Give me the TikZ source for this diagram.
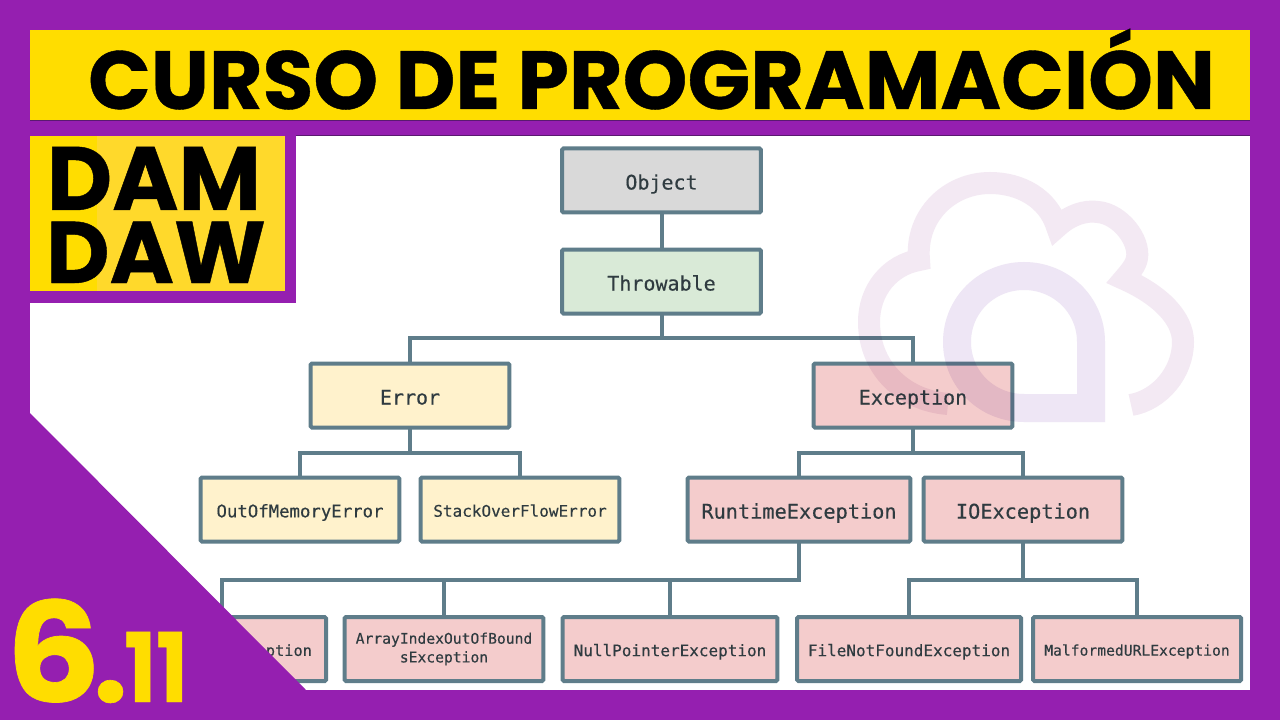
\documentclass[tikz,border=0pt]{standalone}
\usepackage{fontspec}
\setmainfont{Poppins}[BoldFont={Poppins Bold},BoldFeatures={FakeBold=0.5}]
\newfontfamily\monof{DejaVu Sans Mono}[FakeBold=0.35]
\definecolor{purp}{HTML}{951FB0}
\definecolor{yel}{HTML}{FFDD00}
\definecolor{yelb}{HTML}{FFD92B}
\definecolor{edge}{HTML}{5F7D8A}
\definecolor{ink}{HTML}{2F3B40}
\definecolor{grayf}{HTML}{D9D9D9}
\definecolor{greenf}{HTML}{D9EAD7}
\definecolor{yellf}{HTML}{FFF2CC}
\definecolor{redf}{HTML}{F4CCCC}
\definecolor{wmouter}{HTML}{F3E9F3}
\definecolor{wminner}{HTML}{EEE6F5}
\definecolor{hair}{HTML}{5A1A70}
\newcommand{\mfs}[1]{\monof\fontsize{#1}{#1}\selectfont}
\tikzset{
  x=0.75pt,y=-0.75pt,
  tree box/.style={draw=edge,line width=3pt,rectangle,rounded corners=1pt,inner sep=0pt,outer sep=0pt,text=ink,align=center,minimum height=48pt},
  lbl/.style={font=\mfs{#1},text height=0.9*#1 pt,text depth=0pt},
  conn/.style={draw=edge,line width=3pt,line join=miter},
  wm/.style={line cap=butt,line join=miter},
  big/.style={font=\bfseries\fontsize{#1}{#1}\selectfont,inner sep=0pt,anchor=base}
}
\begin{document}
\begin{tikzpicture}
\useasboundingbox (0,0) rectangle (1280,720);
\fill[purp] (0,0) rectangle (1280,720);
\fill[white] (30,136) rectangle (1250,690);
\fill[purp] (30,136) rectangle (296,303);
\draw[hair,line width=0.6pt] (296,135.6) -- (1250,135.6);
% boxes
\node[tree box,fill=grayf,minimum width=149pt,lbl=15] (obj) at (661.5,180.5) {Object};
\node[tree box,fill=greenf,minimum width=149pt,lbl=15] (thr) at (661.5,281.5) {Throwable};
\node[tree box,fill=yellf,minimum width=149pt,lbl=15] (err) at (410,395.5) {Error};
\node[tree box,fill=redf,minimum width=149pt,lbl=15] (exc) at (913,395.5) {Exception};
\node[tree box,fill=yellf,minimum width=149pt,lbl=13] (oom) at (300,509.5) {OutOfMemoryError};
\node[tree box,fill=yellf,minimum width=149pt,lbl=12] (sof) at (520,509.5) {StackOverFlowError};
\node[tree box,fill=redf,minimum width=167pt,lbl=15.2] (rte) at (799,509.5) {RuntimeException};
\node[tree box,fill=redf,minimum width=149pt,lbl=15.2] (ioe) at (1023,509.5) {IOException};
\node[tree box,fill=redf,minimum width=156pt,text width=135pt,align=right,lbl=11.5] (ari) at (222,649) {ArithmeticException};
\node[tree box,fill=redf,minimum width=149pt,font=\mfs{11}] (arr) at (444,649) {ArrayIndexOutOfBound\\[3pt]sException};
\node[tree box,fill=redf,minimum width=161pt,lbl=12] (npe) at (670,649) {NullPointerException};
\node[tree box,fill=redf,minimum width=168pt,lbl=12] (fnf) at (909,649) {FileNotFoundException};
\node[tree box,fill=redf,minimum width=156pt,lbl=11] (mal) at (1137,649) {MalformedURLException};
% connectors
\draw[conn] (obj) -- (thr);
\draw[conn] (thr.south) -- ++(0,24) -| (err.north);
\draw[conn] (thr.south) -- ++(0,24) -| (exc.north);
\draw[conn] (err.south) -- ++(0,25) -| (oom.north);
\draw[conn] (err.south) -- ++(0,25) -| (sof.north);
\draw[conn] (exc.south) -- ++(0,25) -| (rte.north);
\draw[conn] (exc.south) -- ++(0,25) -| (ioe.north);
\draw[conn] (rte.south) -- ++(0,38) -| (ari.north);
\draw[conn] (rte.south) -- ++(0,38) -| (arr.north);
\draw[conn] (rte.south) -- ++(0,38) -| (npe.north);
\draw[conn] (ioe.south) -- ++(0,38) -| (fnf.north);
\draw[conn] (ioe.south) -- ++(0,38) -| (mal.north);
% watermark
\begin{scope}[blend mode=multiply]
\draw[wm,draw=wmouter,line width=16.5pt] (948,404) .. controls (900,400) and (869,365) .. (869,322)
  .. controls (869,290) and (890,265) .. (919,260)
  .. controls (915,215) and (950,183) .. (990,183)
  .. controls (1020,183) and (1048,198) .. (1057,227)
  .. controls (1070,215) and (1085,210) .. (1098,212)
  .. controls (1120,214) and (1140,240) .. (1137,258)
  .. controls (1136,265) and (1130,272) .. (1124,279)
  .. controls (1160,295) and (1183,318) .. (1183,342)
  .. controls (1183,372) and (1160,400) .. (1131,405);
\draw[wm,draw=wminner,line width=21pt] (1091,408) -- (1091,342)
  .. controls (1091,305) and (1061,276) .. (1024,276)
  .. controls (987,276) and (957,305) .. (957,342)
  .. controls (957,379) and (987,408) .. (1024,408) -- cycle;
\end{scope}
% overlays
\fill[purp] (30,413) -- (306,690) -- (0,690) -- (0,413) -- cycle;
\fill[purp] (0,690) rectangle (1280,720);
\fill[yel] (30,30) rectangle (1250,120);
\draw[hair,line width=0.6pt] (30,120.2) -- (1250,120.2);
\fill[yel] (30,136) rectangle (285,291);
\fill[yelb] (97,136) rectangle (285,291);
\node[big=61.8pt] (title) at (651.5,109) {CURSO DE PROGRAMACIÓN};
\node[big=67.5pt] (dam) at (154,210) {DAM};
\node[big=65.5pt] (daw) at (156,283) {DAW};
\node[big=70pt,text=yel,anchor=base west] (num) at (5.5,702) {\scalebox{1.08}[1]{\fontsize{104pt}{104pt}\selectfont 6}\hspace{-6pt}\fontsize{92pt}{92pt}\selectfont .\hspace{-2.5pt}\scalebox{0.88}[1]{\fontsize{72pt}{72pt}\selectfont 11}};
\end{tikzpicture}
\end{document}
